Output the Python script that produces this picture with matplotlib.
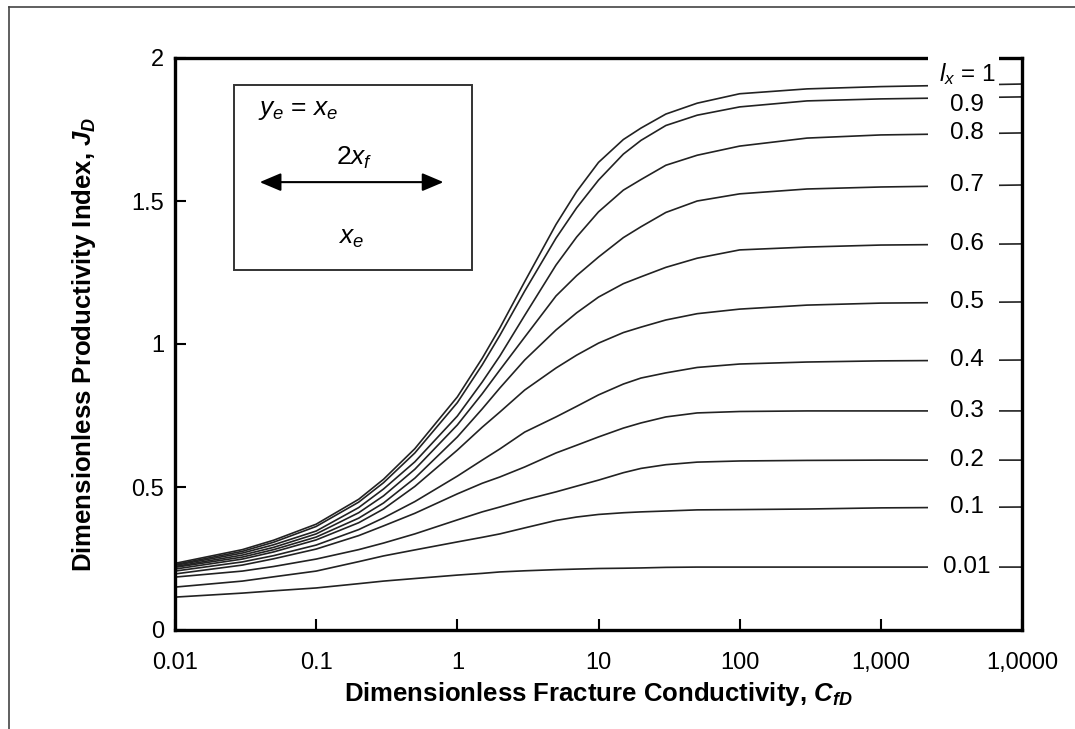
import matplotlib
matplotlib.use("Agg")
import matplotlib.pyplot as plt
from matplotlib.patches import Rectangle
from matplotlib.lines import Line2D
import matplotlib.transforms as mtransforms

plt.rcParams['font.family'] = ['Liberation Sans', 'DejaVu Sans']
plt.rcParams['mathtext.fontset'] = 'custom'
plt.rcParams['mathtext.rm'] = 'Liberation Sans'
plt.rcParams['mathtext.it'] = 'Liberation Sans:italic'
plt.rcParams['mathtext.bf'] = 'Liberation Sans:bold'
plt.rcParams['mathtext.bfit'] = 'Liberation Sans:bold:italic'

# dimensionless fracture conductivity
cfd = [0.01, 0.03, 0.05, 0.1, 0.2, 0.3, 0.5, 1, 1.5, 2, 3, 5, 7, 10, 15, 20, 30, 50,
       100, 300, 1000, 10000]

# J_D for each penetration ratio
jd_100 = [0.233, 0.281, 0.314, 0.370, 0.457, 0.527, 0.634, 0.815, 0.950, 1.056, 1.218,
          1.418, 1.533, 1.635, 1.715, 1.755, 1.804, 1.842, 1.875, 1.892, 1.900, 1.909]
jd_090 = [0.229, 0.275, 0.307, 0.362, 0.447, 0.515, 0.619, 0.795, 0.927, 1.030, 1.185,
          1.370, 1.476, 1.573, 1.664, 1.712, 1.764, 1.800, 1.829, 1.850, 1.857, 1.864]
jd_080 = [0.226, 0.269, 0.298, 0.346, 0.428, 0.493, 0.588, 0.748, 0.867, 0.958, 1.100,
          1.276, 1.374, 1.462, 1.538, 1.575, 1.625, 1.660, 1.692, 1.720, 1.731, 1.738]
jd_070 = [0.222, 0.262, 0.289, 0.336, 0.410, 0.469, 0.562, 0.717, 0.826, 0.909, 1.024,
          1.168, 1.239, 1.304, 1.372, 1.410, 1.460, 1.500, 1.525, 1.542, 1.549, 1.556]
jd_060 = [0.219, 0.255, 0.281, 0.325, 0.391, 0.444, 0.531, 0.675, 0.773, 0.846, 0.944,
          1.049, 1.109, 1.164, 1.211, 1.235, 1.268, 1.300, 1.329, 1.339, 1.346, 1.350]
jd_050 = [0.213, 0.248, 0.273, 0.315, 0.375, 0.423, 0.502, 0.629, 0.709, 0.762, 0.839,
          0.916, 0.961, 1.003, 1.040, 1.059, 1.084, 1.106, 1.122, 1.136, 1.143, 1.147]
jd_040 = [0.206, 0.238, 0.260, 0.297, 0.351, 0.392, 0.449, 0.538, 0.594, 0.633, 0.692,
          0.745, 0.782, 0.822, 0.860, 0.881, 0.899, 0.918, 0.930, 0.937, 0.941, 0.944]
jd_030 = [0.196, 0.227, 0.249, 0.283, 0.330, 0.364, 0.408, 0.476, 0.513, 0.535, 0.570,
          0.619, 0.646, 0.675, 0.706, 0.724, 0.745, 0.759, 0.764, 0.766, 0.766, 0.766]
jd_020 = [0.185, 0.206, 0.222, 0.248, 0.281, 0.304, 0.336, 0.385, 0.413, 0.430, 0.455,
          0.483, 0.503, 0.524, 0.550, 0.565, 0.578, 0.587, 0.591, 0.593, 0.594, 0.594]
jd_010 = [0.150, 0.171, 0.186, 0.206, 0.239, 0.259, 0.280, 0.308, 0.324, 0.336, 0.357,
          0.383, 0.395, 0.404, 0.410, 0.413, 0.416, 0.420, 0.421, 0.423, 0.427, 0.430]
jd_001 = [0.115, 0.129, 0.137, 0.147, 0.162, 0.171, 0.180, 0.192, 0.198, 0.203, 0.207,
          0.211, 0.213, 0.215, 0.216, 0.217, 0.219, 0.220, 0.220, 0.220, 0.220, 0.220]

curves = [jd_100, jd_090, jd_080, jd_070, jd_060, jd_050, jd_040, jd_030, jd_020, jd_010, jd_001]
curve_labels = ["$l_x$ = 1", "0.9", "0.8", "0.7", "0.6", "0.5", "0.4", "0.3", "0.2", "0.1", "0.01"]
# small vertical nudges so the two top labels don't collide
label_nudge = [0.035, -0.03, 0, 0, 0, 0, 0, 0, 0, 0, 0]

xticks = [0.01, 0.1, 1, 10, 100, 1000, 10000]
xtick_labels = ["0.01", "0.1", "1", "10", "100", "1,000", "1,0000"]
yticks = [0, 0.5, 1, 1.5, 2]
ytick_labels = ["0", "0.5", "1", "1.5", "2"]

fig = plt.figure(figsize=(10.75, 7.29), dpi=100)
ax = fig.add_axes([175/1075, 1 - 630/729, 847/1075, 572/729])

for jd in curves:
    ax.plot(cfd, jd, color="#222222", linewidth=1.2, zorder=2)

ax.set_xscale("log")
ax.set_xlim(0.01, 10000)
ax.set_ylim(0, 2)
ax.set_xticks(xticks)
ax.set_xticklabels(xtick_labels)
ax.set_yticks(yticks)
ax.set_yticklabels(ytick_labels)
ax.minorticks_off()
ax.tick_params(axis="both", direction="in", length=8, width=1.5, labelsize=17, pad=8)
ax.tick_params(axis="x", pad=16)
for s in ax.spines.values():
    s.set_linewidth(2.4)
    s.set_color("black")

ax.set_xlabel("Dimensionless Fracture Conductivity, $\\mathbfit{C}_{\\mathbfit{fD}}$",
              fontsize=18.5, fontweight="bold", labelpad=4)
ax.set_ylabel("Dimensionless Productivity Index, $\\mathbfit{J}_{\\mathbfit{D}}$",
              fontsize=18.5, fontweight="bold", labelpad=24)

# white gap where the curve labels sit (also breaks the top spine)
trans = mtransforms.blended_transform_factory(ax.transAxes, ax.transAxes)
gap = Rectangle((0.889, 0.012), 0.084, 1.0, transform=trans, facecolor="white",
                edgecolor="none", clip_on=False, zorder=3)
ax.add_patch(gap)

ltrans = mtransforms.blended_transform_factory(ax.transAxes, ax.transData)
for jd, lab, dy in zip(curves, curve_labels, label_nudge):
    ax.text(0.935, jd[-1] + dy, lab, transform=ltrans, ha="center", va="center",
            fontsize=17.5, zorder=4)

# inset sketch
box = Rectangle((0.0697, 0.629), 0.2809, 0.324, transform=ax.transAxes,
                facecolor="white", edgecolor="#333333", linewidth=1.4, zorder=3)
ax.add_patch(box)
ax.text(0.0975, 0.909, "$y_e$ = $x_e$", transform=ax.transAxes, ha="left", va="center",
        fontsize=19, zorder=4)
ax.text(0.212, 0.826, "2$x_f$", transform=ax.transAxes, ha="center", va="center",
        fontsize=19, zorder=4)
ax.text(0.208, 0.685, "$x_e$", transform=ax.transAxes, ha="center", va="center",
        fontsize=19, zorder=4)
ax.annotate("", xy=(0.1000, 0.783), xytext=(0.3170, 0.783), xycoords="axes fraction",
            textcoords="axes fraction",
            arrowprops=dict(arrowstyle="<|-|>,head_length=1.3,head_width=0.55",
                            color="black", linewidth=1.5, shrinkA=0, shrinkB=0),
            zorder=4)

# page frame visible at top and left
fig.add_artist(Line2D([9/1075, 1], [1 - 7/729, 1 - 7/729], transform=fig.transFigure,
                      color="#444444", linewidth=1.2))
fig.add_artist(Line2D([9/1075, 9/1075], [0, 1 - 7/729], transform=fig.transFigure,
                      color="#444444", linewidth=1.2))

fig.savefig("out.png", dpi=100)
